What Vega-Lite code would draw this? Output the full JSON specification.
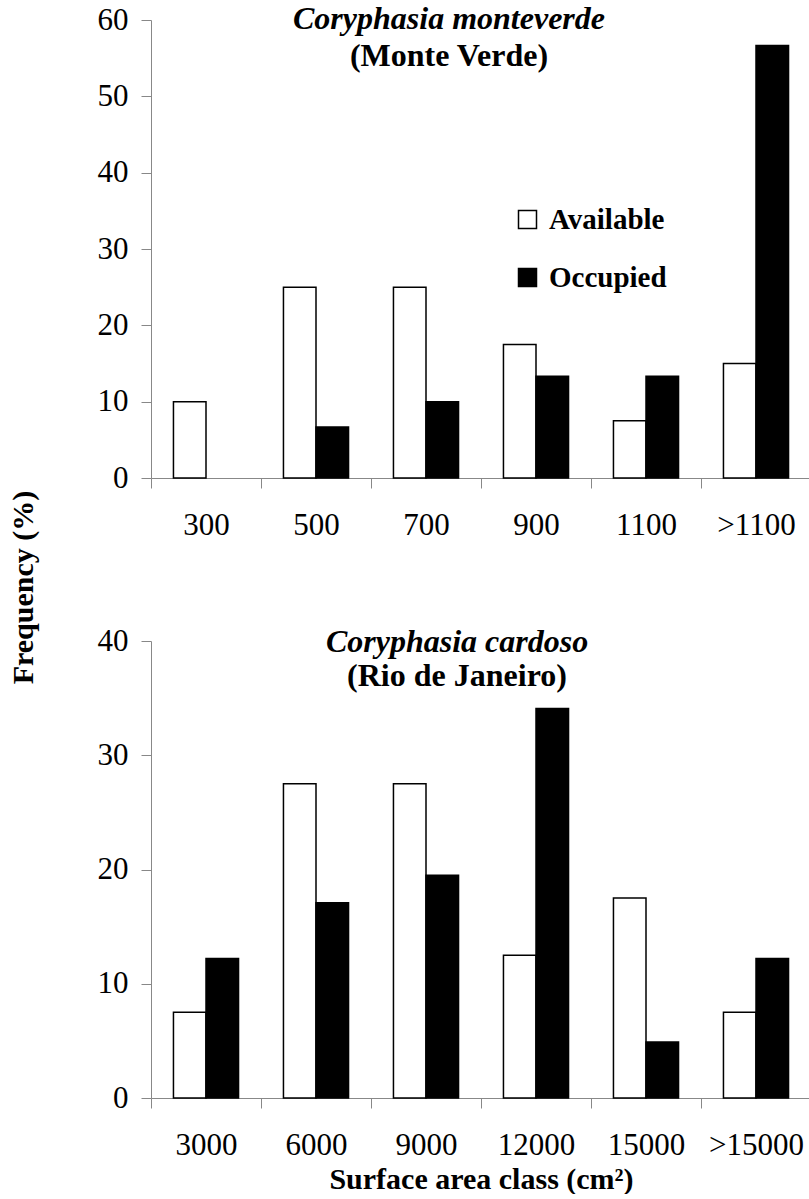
{
  "$schema": "https://vega.github.io/schema/vega-lite/v6.json",
  "background": "white",
  "padding": {"left": 8, "top": 3, "right": 0, "bottom": 0},
  "bounds": "flush",
  "spacing": 163,
  "config": {
    "font": "Liberation Serif",
    "view": {"stroke": null},
    "axis": {
      "labelFont": "Liberation Serif",
      "labelFontSize": 31,
      "labelColor": "black",
      "domainColor": "#888888",
      "tickColor": "#888888",
      "grid": false,
      "titleFont": "Liberation Serif",
      "titleFontSize": 30,
      "titleFontWeight": "bold",
      "titleColor": "black"
    },
    "title": {"font": "Liberation Serif", "color": "black", "subtitleColor": "black", "subtitleFont": "Liberation Serif"}
  },
  "resolve": {"scale": {"fill": "independent", "y": "independent", "x": "independent"}, "legend": {"fill": "independent"}},
  "datasets": {
    "mv": [
      {"cls": "300", "type": "Available", "value": 10},
      {"cls": "300", "type": "Occupied", "value": 0},
      {"cls": "500", "type": "Available", "value": 25},
      {"cls": "500", "type": "Occupied", "value": 6.67},
      {"cls": "700", "type": "Available", "value": 25},
      {"cls": "700", "type": "Occupied", "value": 10},
      {"cls": "900", "type": "Available", "value": 17.5},
      {"cls": "900", "type": "Occupied", "value": 13.33},
      {"cls": "1100", "type": "Available", "value": 7.5},
      {"cls": "1100", "type": "Occupied", "value": 13.33},
      {"cls": ">1100", "type": "Available", "value": 15},
      {"cls": ">1100", "type": "Occupied", "value": 56.67}
    ],
    "rj": [
      {"cls": "3000", "type": "Available", "value": 7.5},
      {"cls": "3000", "type": "Occupied", "value": 12.2},
      {"cls": "6000", "type": "Available", "value": 27.5},
      {"cls": "6000", "type": "Occupied", "value": 17.1},
      {"cls": "9000", "type": "Available", "value": 27.5},
      {"cls": "9000", "type": "Occupied", "value": 19.5},
      {"cls": "12000", "type": "Available", "value": 12.5},
      {"cls": "12000", "type": "Occupied", "value": 34.1},
      {"cls": "15000", "type": "Available", "value": 17.5},
      {"cls": "15000", "type": "Occupied", "value": 4.9},
      {"cls": ">15000", "type": "Available", "value": 7.5},
      {"cls": ">15000", "type": "Occupied", "value": 12.2}
    ]
  },
  "vconcat": [
    {
      "width": 660,
      "height": 458,
      "data": {"name": "mv"},
      "transform": [{"filter": "datum.value > 0"}],
      "title": {
        "text": "Coryphasia monteverde",
        "subtitle": "(Monte Verde)",
        "fontSize": 32,
        "fontStyle": "italic",
        "fontWeight": "bold",
        "subtitleFontSize": 32,
        "subtitleFontWeight": "bold",
        "subtitleFontStyle": "normal",
        "subtitlePadding": 5,
        "anchor": "middle",
        "frame": "group",
        "offset": -69,
        "dx": -32
      },
      "mark": {"type": "bar", "stroke": "black", "strokeWidth": 1.5},
      "encoding": {
        "x": {
          "field": "cls", "type": "nominal", "sort": ["300", "500", "700", "900", "1100", ">1100"],
          "scale": {"paddingInner": 0, "paddingOuter": 0},
          "axis": {"title": null, "tickBand": "extent", "labelAngle": 0, "tickSize": 10, "labelPadding": 22}
        },
        "xOffset": {"field": "type", "type": "nominal", "scale": {"domain": ["Available", "Occupied"], "paddingInner": 0, "paddingOuter": 0.69}},
        "y": {
          "field": "value", "type": "quantitative",
          "scale": {"domain": [0, 60], "nice": false},
          "axis": {"values": [0, 10, 20, 30, 40, 50, 60], "tickSize": 10, "labelPadding": 13, "title": "Frequency (%)", "titleX": -128, "titleY": 567, "titleAngle": -90, "titleBaseline": "middle", "titleAlign": "center"}
        },
        "fill": {
          "field": "type", "type": "nominal",
          "scale": {"domain": ["Available", "Occupied"], "range": ["white", "black"]},
          "legend": {
            "orient": "none", "legendX": 362, "legendY": 185, "title": null,
            "symbolType": "square", "symbolSize": 324, "symbolStrokeColor": "black", "symbolStrokeWidth": 1.5,
            "labelFont": "Liberation Serif", "labelFontSize": 29, "labelFontWeight": "bold", "labelColor": "black",
            "labelOffset": 7, "rowPadding": 28, "padding": 0
          }
        }
      }
    },
    {
      "width": 660,
      "height": 457,
      "data": {"name": "rj"},
      "title": {
        "text": "Coryphasia cardoso",
        "subtitle": "(Rio de Janeiro)",
        "fontSize": 32,
        "fontStyle": "italic",
        "fontWeight": "bold",
        "subtitleFontSize": 32,
        "subtitleFontWeight": "bold",
        "subtitleFontStyle": "normal",
        "subtitlePadding": 2,
        "anchor": "middle",
        "frame": "group",
        "offset": -68,
        "dx": -24
      },
      "mark": {"type": "bar", "stroke": "black", "strokeWidth": 1.5},
      "encoding": {
        "x": {
          "field": "cls", "type": "nominal", "sort": ["3000", "6000", "9000", "12000", "15000", ">15000"],
          "scale": {"paddingInner": 0, "paddingOuter": 0},
          "axis": {"title": "Surface area class (cm²)", "tickBand": "extent", "labelAngle": 0, "tickSize": 10, "labelPadding": 22, "titlePadding": 4}
        },
        "xOffset": {"field": "type", "type": "nominal", "scale": {"domain": ["Available", "Occupied"], "paddingInner": 0, "paddingOuter": 0.69}},
        "y": {
          "field": "value", "type": "quantitative",
          "scale": {"domain": [0, 40], "nice": false},
          "axis": {"values": [0, 10, 20, 30, 40], "tickSize": 10, "labelPadding": 13, "title": null}
        },
        "fill": {
          "field": "type", "type": "nominal",
          "scale": {"domain": ["Available", "Occupied"], "range": ["white", "black"]},
          "legend": null
        }
      }
    }
  ]
}
